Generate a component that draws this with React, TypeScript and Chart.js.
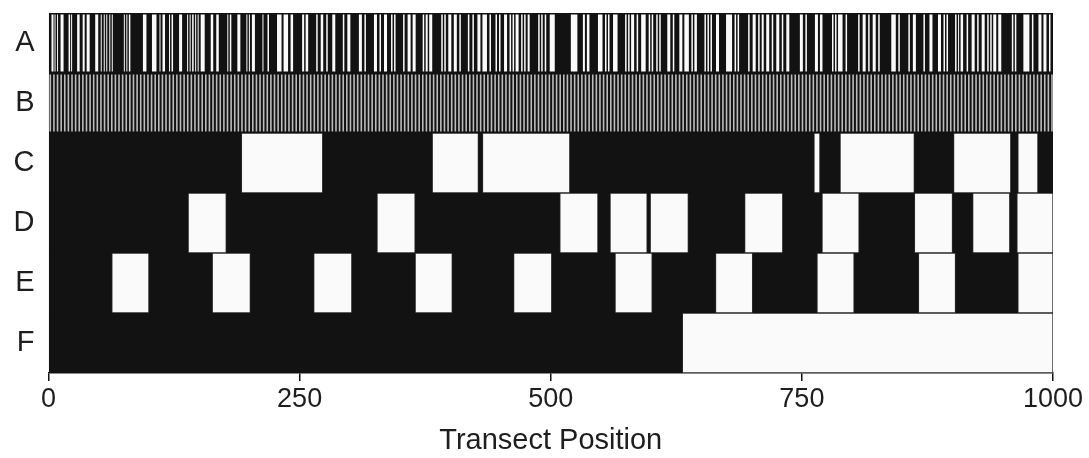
import React, { useEffect, useRef } from "react";
import { Chart, registerables } from "chart.js";

Chart.register(...registerables);

// Row labels (top to bottom) and axis ticks
const rowLabels = ["A", "B", "C", "D", "E", "F"];
const xTickValues = [0, 250, 500, 750, 1000];
const transectLength = 1000;

// Row A: irregular open (white) intervals along the transect
const rowAOpen: [number, number][] = [
  [3, 5], [6, 7], [8.5, 9.5], [12, 15], [20, 21.5], [22.5, 23.5], [28.5, 31], [34, 36], [38, 41], [46.5, 49.5],
  [52, 53], [55, 56], [57.5, 58.5], [60.5, 61.5], [63, 64], [75, 76], [77.5, 78.5], [80, 81.5], [94, 97.5], [103, 107.5],
  [110.5, 111.5], [113.5, 116], [120, 121], [122.5, 124], [130, 133], [138, 139], [140.5, 141.5], [143, 144.5], [146, 147], [148.5, 149.5],
  [151.5, 155.5], [161.5, 164], [167, 169.5], [178, 179], [180.5, 182], [188, 191], [197, 198], [199.5, 200.5],
  [202.5, 205.5], [213, 214], [218, 219.5], [227.5, 232], [234, 238.5], [241, 243.5], [252.5, 254.5], [256, 258.5], [266.5, 268], [271, 273.5],
  [276.5, 278], [282.5, 285.5], [293, 294.5], [297.5, 300.5], [309, 312], [314.5, 316], [324, 327], [329.5, 331], [334, 337], [341, 342.5],
  [344, 345.5], [353, 354.5], [357.5, 360.5], [362.5, 365.5], [372.5, 374], [375.5, 377.5], [379, 382], [391, 392.5], [394, 395.5], [398, 401],
  [403.5, 406.5], [409, 410.5], [417.5, 419], [422, 423.5], [427, 430], [432, 436.5], [439, 440.5], [445, 446.5], [448.5, 450], [453.5, 456.5],
  [459, 460.5], [462, 463.5], [465, 468], [470.5, 472], [473.5, 475], [477, 479], [487.5, 489], [490.5, 492], [494, 495.5], [499, 504],
  [520, 526.5], [532, 534], [536, 538.5], [547, 551.5], [554, 555.5], [557, 558.5], [562, 566.5], [574, 575.5], [577, 578.5], [580, 583],
  [585.5, 587], [590, 594.5], [597.5, 599], [600.5, 602],
  [605, 606.5], [608, 609.5], [616, 619], [621.5, 623], [628, 631], [633, 637.5], [640, 641.5], [643, 645.5], [653, 654.5], [656, 657.5],
  [659, 660.5], [664.5, 667.5], [674.5, 680.5], [683, 684.5], [686, 687.5], [696.5, 698], [701, 704], [706.5, 708], [710, 712], [714.5, 717.5],
  [720, 721.5], [724.5, 727.5], [730, 731.5], [734.5, 737.5], [748, 751], [753.5, 755], [763, 766], [768, 770.5], [780, 781.5], [783, 784.5],
  [786, 790.5], [793.5, 795],
  [806, 807.5], [810.5, 813.5], [816, 817.5], [820.5, 823.5], [826, 827.5], [839, 843.5], [846, 847.5], [856, 857.5], [860.5, 863.5], [871, 872.5],
  [877, 880], [885.5, 888.5], [891, 892.5], [894, 895.5], [902.5, 904], [905.5, 906.5], [908, 910.5], [914, 915.5], [919, 922], [924.5, 926],
  [929, 932], [934.5, 936], [937.5, 939], [940.5, 943.5], [945.5, 948.5], [959, 960.5], [962, 963.5], [970.5, 976.5], [979, 980.5], [985.5, 988.5],
  [990.5, 993.5], [996, 997.5],
];

// Row B: regularly spaced open stripes (start positions) and their width
const rowBStarts: number[] = [
  1, 4.6, 8.2, 11.8, 15.4, 19, 22.6, 26.2, 29.8, 33.4,
  37, 40.6, 44.2, 47.8, 51.4, 55, 58.6, 62.2, 65.8, 69.4,
  73, 76.6, 80.2, 83.8, 87.4, 91, 94.6, 98.2, 101.8, 105.4,
  109, 112.6, 116.2, 119.8, 123.4, 127, 130.6, 134.2, 137.8, 141.4,
  145, 148.6, 152.2, 155.8, 159.4, 163, 166.6, 170.2, 173.8, 177.4,
  181, 184.6, 188.2, 191.8, 195.4, 199, 202.6, 206.2, 209.8, 213.4,
  217, 220.6, 224.2, 227.8, 231.4, 235, 238.6, 242.2, 245.8, 249.4,
  253, 256.6, 260.2, 263.8, 267.4, 271, 274.6, 278.2, 281.8, 285.4,
  289, 292.6, 296.2, 299.8, 303.4, 307, 310.6, 314.2, 317.8, 321.4,
  325, 328.6, 332.2, 335.8, 339.4, 343, 346.6, 350.2, 353.8, 357.4,
  361, 364.6, 368.2, 371.8, 375.4, 379, 382.6, 386.2, 389.8, 393.4,
  397, 400.6, 404.2, 407.8, 411.4, 415, 418.6, 422.2, 425.8, 429.4,
  433, 436.6, 440.2, 443.8, 447.4, 451, 454.6, 458.2, 461.8, 465.4,
  469, 472.6, 476.2, 479.8, 483.4, 487, 490.6, 494.2, 497.8, 501.4,
  505, 508.6, 512.2, 515.8, 519.4, 523, 526.6, 530.2, 533.8, 537.4,
  541, 544.6, 548.2, 551.8, 555.4, 559, 562.6, 566.2, 569.8, 573.4,
  577, 580.6, 584.2, 587.8, 591.4, 595, 598.6, 602.2, 605.8, 609.4,
  613, 616.6, 620.2, 623.8, 627.4, 631, 634.6, 638.2, 641.8, 645.4,
  649, 652.6, 656.2, 659.8, 663.4, 667, 670.6, 674.2, 677.8, 681.4,
  685, 688.6, 692.2, 695.8, 699.4, 703, 706.6, 710.2, 713.8, 717.4,
  721, 724.6, 728.2, 731.8, 735.4, 739, 742.6, 746.2, 749.8, 753.4,
  757, 760.6, 764.2, 767.8, 771.4, 775, 778.6, 782.2, 785.8, 789.4,
  793, 796.6, 800.2, 803.8, 807.4, 811, 814.6, 818.2, 821.8, 825.4,
  829, 832.6, 836.2, 839.8, 843.4, 847, 850.6, 854.2, 857.8, 861.4,
  865, 868.6, 872.2, 875.8, 879.4, 883, 886.6, 890.2, 893.8, 897.4,
  901, 904.6, 908.2, 911.8, 915.4, 919, 922.6, 926.2, 929.8, 933.4,
  937, 940.6, 944.2, 947.8, 951.4, 955, 958.6, 962.2, 965.8, 969.4,
  973, 976.6, 980.2, 983.8, 987.4, 991, 994.6, 998.2,
];
const rowBStripeWidth = 1.6;

// Rows C-F: open patches
const rowCOpen: [number, number][] = [
  [192, 273], [382, 428], [432, 519], [762, 768], [788, 862], [901, 958], [965, 985],
];
const rowDOpen: [number, number][] = [
  [139, 177], [327, 365], [509, 547], [559, 596], [599, 637], [693, 731], [770, 807], [862, 900], [920, 957], [964, 1000],
];
const rowEOpen: [number, number][] = [
  [63, 100], [163, 201], [264, 302], [365, 402], [463, 501], [564, 601], [664, 701], [765, 802], [866, 903], [965, 1000],
];
const rowFOpen: [number, number][] = [[631, 1000]];

const FONT = "'Liberation Sans', Arial, Helvetica, sans-serif";
const INK = "#121212";
const PAPER = "#fafafa";
const STRIPE_B = "#bcbcbc";
const TEXT = "#1e1e1e";

const toBars = (row: string, segs: [number, number][]) =>
  segs.map(([s, e]) => ({ x: [s, e], y: row }));

export default function App() {
  const canvasRef = useRef<HTMLCanvasElement | null>(null);

  useEffect(() => {
    if (!canvasRef.current) return;

    const stripesA = toBars("A", rowAOpen);
    const stripesB = toBars(
      "B",
      rowBStarts.map((s) => [s, Math.min(s + rowBStripeWidth, transectLength)] as [number, number])
    );
    const patches = [
      ...toBars("C", rowCOpen),
      ...toBars("D", rowDOpen),
      ...toBars("E", rowEOpen),
      ...toBars("F", rowFOpen),
    ];
    const baseRows = rowLabels.map((r) => ({ x: [0, transectLength], y: r }));

    const chart = new Chart(canvasRef.current, {
      type: "bar",
      data: {
        labels: rowLabels,
        datasets: [
          {
            label: "fine A",
            data: stripesA as any,
            backgroundColor: PAPER,
            borderWidth: 0,
            grouped: false,
            barPercentage: 0.95,
            categoryPercentage: 1,
            order: 0,
          },
          {
            label: "fine B",
            data: stripesB as any,
            backgroundColor: STRIPE_B,
            borderWidth: 0,
            grouped: false,
            barPercentage: 0.95,
            categoryPercentage: 1,
            order: 0,
          },
          {
            label: "patches",
            data: patches as any,
            backgroundColor: PAPER,
            borderColor: "#2a2a2a",
            borderWidth: 1,
            borderSkipped: false,
            grouped: false,
            barPercentage: 1,
            categoryPercentage: 1,
            order: 1,
          },
          {
            label: "base",
            data: baseRows as any,
            backgroundColor: INK,
            borderWidth: 0,
            grouped: false,
            barPercentage: 1,
            categoryPercentage: 1,
            order: 2,
          },
        ],
      },
      options: {
        indexAxis: "y",
        animation: false,
        responsive: true,
        maintainAspectRatio: false,
        layout: { padding: { top: 13, right: 36, left: 0, bottom: 0 } },
        plugins: {
          legend: { display: false },
          tooltip: { enabled: false },
          title: { display: false },
        },
        scales: {
          x: {
            type: "linear",
            min: 0,
            max: transectLength,
            afterBuildTicks: (scale: any) => {
              scale.ticks = xTickValues.map((v) => ({ value: v }));
            },
            afterFit: (scale: any) => {
              scale.height = 85;
            },
            grid: {
              display: true,
              drawOnChartArea: false,
              drawTicks: true,
              tickLength: 8,
              color: INK,
              lineWidth: 1.5,
            },
            border: { display: true, color: INK, width: 1.5 },
            ticks: {
              color: TEXT,
              padding: 2,
              maxRotation: 0,
              font: { family: FONT, size: 27 },
              callback: (v: any) => String(v),
            },
            title: {
              display: true,
              text: "Transect Position",
              color: TEXT,
              padding: { top: 0, bottom: 0 },
              font: { family: FONT, size: 29 },
            },
          },
          y: {
            type: "category",
            offset: true,
            afterFit: (scale: any) => {
              scale.width = 48.5;
              scale.paddingTop = 0;
              scale.paddingBottom = 0;
            },
            grid: { display: false, drawTicks: false },
            border: { display: false },
            ticks: {
              color: TEXT,
              padding: 14,
              font: { family: FONT, size: 29 },
            },
          },
        },
      },
    });

    return () => chart.destroy();
  }, []);

  return (
    <div style={{ position: "fixed", left: 0, top: 0, width: 1089, height: 458, background: "#ffffff" }}>
      <canvas ref={canvasRef} />
    </div>
  );
}
